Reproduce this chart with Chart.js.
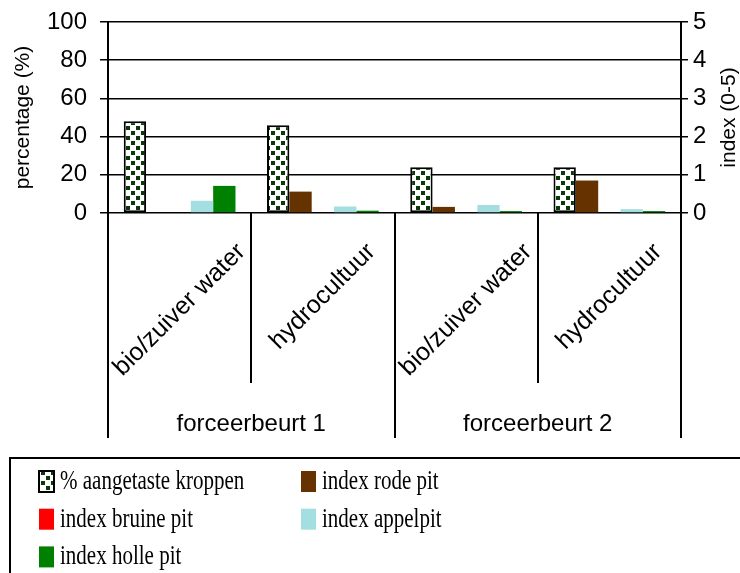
<!DOCTYPE html>
<html>
<head>
<meta charset="utf-8">
<script src="https://cdn.jsdelivr.net/npm/chart.js@4.4.0/dist/chart.umd.min.js"></script>
<style>
  html, body { margin: 0; padding: 0; background: #fff; }
</style>
</head>
<body>
<canvas id="chartKroppen" width="740" height="573"></canvas>
<script>
// categorieen en waarden
const behandelingen = ['bio/zuiver water', 'hydrocultuur', 'bio/zuiver water', 'hydrocultuur']
const forceerbeurten = ['forceerbeurt 1', 'forceerbeurt 2']
const reeksNamen = ['% aangetaste kroppen', 'index rode pit', 'index bruine pit', 'index appelpit', 'index holle pit']

const aangetast = [48, 46, 24, 24]
const rodePit = [0, 0.56, 0.16, 0.85]
const bruinePit = [0, 0, 0, 0]
const appelPit = [0.32, 0.17, 0.21, 0.1]
const hollePit = [0.71, 0.06, 0.05, 0.05]

const percentTicks = [0, 20, 40, 60, 80, 100]
const indexTicks = [0, 1, 2, 3, 4, 5]

const kleuren = ['#ffffff', '#663300', '#ff0000', '#a3dfe0', '#008000']

Chart.defaults.font.family = "'Liberation Sans', Arial, sans-serif"
Chart.defaults.color = '#000'

const canvas = document.getElementById('chartKroppen')
const ctxMain = canvas.getContext('2d')

function maakPatroon() {
    const tile = document.createElement('canvas')
    tile.width = 10
    tile.height = 10
    const g = tile.getContext('2d')
    g.fillStyle = '#fff'
    g.fillRect(0, 0, 10, 10)
    g.fillStyle = '#0a3a0a'
    g.fillRect(1, 1, 4, 4)
    g.fillRect(6, 6, 4, 4)
    return ctxMain.createPattern(tile, 'repeat')
}
const patroon = maakPatroon()

// lijnen, categorie labels, rechtse titel en legende
const structuur = {
    id: 'structuur',
    afterDraw(chart) {
        const { ctx, chartArea: a, scales: { x } } = chart
        const n = behandelingen.length
        const grens = i => {
            if (i === 0) return x.left
            if (i === n) return x.right
            return (x.getPixelForValue(i - 1) + x.getPixelForValue(i)) / 2
        }
        ctx.save()
        ctx.strokeStyle = '#000'
        ctx.lineWidth = 2
        for (let i = 0; i <= n; i++) {
            const lang = i % 2 === 0
            const px = Math.round(grens(i))
            ctx.beginPath()
            ctx.moveTo(px, a.bottom)
            ctx.lineTo(px, a.bottom + (lang ? 225 : 170))
            ctx.stroke()
        }

        // schuine labels
        ctx.fillStyle = '#000'
        ctx.font = "25px 'Liberation Sans', Arial, sans-serif"
        behandelingen.forEach((lab, i) => {
            const cx = x.getPixelForValue(i)
            const w = ctx.measureText(lab).width
            ctx.save()
            ctx.translate(cx + w / 2 * Math.SQRT1_2, a.bottom + 35)
            ctx.rotate(-Math.PI / 4)
            ctx.textAlign = 'right'
            ctx.textBaseline = 'middle'
            ctx.fillText(lab, 0, 0)
            ctx.restore()
        })

        // groepslabels
        ctx.font = "24px 'Liberation Sans', Arial, sans-serif"
        ctx.textAlign = 'center'
        ctx.textBaseline = 'alphabetic'
        forceerbeurten.forEach((lab, j) => {
            const mid = (grens(j * 2) + grens(j * 2 + 2)) / 2
            ctx.fillText(lab, mid, a.bottom + 218)
        })

        // titel rechter as
        ctx.save()
        ctx.font = "21px 'Liberation Sans', Arial, sans-serif"
        ctx.translate(729, (a.top + a.bottom) / 2)
        ctx.rotate(-Math.PI / 2)
        ctx.textAlign = 'center'
        ctx.textBaseline = 'middle'
        ctx.fillText('index (0-5)', 0, 0)
        ctx.restore()

        // legende
        ctx.lineWidth = 2
        ctx.strokeRect(10, 458, 750, 140)
        chart.data.datasets.forEach((ds, i) => {
            const col = i % 2
            const row = Math.floor(i / 2)
            const sx = col ? 301 : 39
            const cy = 481.5 + row * 37.7
            ctx.fillStyle = ds.backgroundColor
            ctx.fillRect(sx, cy - 10.5, 15, 21)
            if (i === 0) {
                ctx.lineWidth = 2
                ctx.strokeRect(sx, cy - 10.5, 15, 21)
            }
            ctx.save()
            ctx.fillStyle = '#000'
            ctx.font = "21px 'Liberation Serif', 'Times New Roman', serif"
            ctx.textAlign = 'left'
            ctx.textBaseline = 'middle'
            ctx.translate(sx + 21, cy)
            ctx.scale(1, 1.33)
            ctx.fillText(ds.label, 0, 0)
            ctx.restore()
        })
        ctx.restore()
    }
}

const reeksen = [aangetast, rodePit, bruinePit, appelPit, hollePit]

const data = {
    labels: behandelingen,
    datasets: reeksen.map((waarden, i) => ({
        label: reeksNamen[i],
        data: waarden,
        yAxisID: i === 0 ? 'y' : 'y1',
        backgroundColor: i === 0 ? patroon : kleuren[i],
        borderColor: '#000',
        borderWidth: i === 0 ? 2 : 0,
        borderSkipped: false,
        categoryPercentage: 0.78,
        barPercentage: 1.0
    }))
}

const config = {
    type: 'bar',
    data: data,
    options: {
        responsive: false,
        animation: false,
        devicePixelRatio: 1,
        layout: { padding: { top: 22, left: 0, right: 0, bottom: 0 } },
        plugins: {
            legend: { display: false },
            tooltip: { enabled: false }
        },
        scales: {
            x: {
                ticks: { display: false },
                grid: { display: false },
                border: { display: false },
                afterFit: s => { s.height = 360 }
            },
            y: {
                position: 'left',
                min: 0,
                max: 100,
                afterBuildTicks: s => { s.ticks = percentTicks.map(v => ({ value: v })) },
                ticks: { font: { size: 24 }, color: '#000', padding: 13 },
                grid: { color: '#000', lineWidth: 1.5, tickLength: 8 },
                border: { color: '#000', width: 2 },
                title: {
                    display: true,
                    text: 'percentage (%)',
                    font: { size: 21 },
                    color: '#000',
                    padding: { top: 11, bottom: 0 }
                },
                afterFit: s => {
                    s.width = 108
                    s.paddingTop = 0
                    s.paddingBottom = 0
                }
            },
            y1: {
                position: 'right',
                min: 0,
                max: 5,
                afterBuildTicks: s => { s.ticks = indexTicks.map(v => ({ value: v })) },
                ticks: { font: { size: 24 }, color: '#000', padding: 5 },
                grid: { drawOnChartArea: false, color: '#000', lineWidth: 1.5, tickLength: 7 },
                border: { color: '#000', width: 2 },
                afterFit: s => {
                    s.width = 59
                    s.paddingTop = 0
                    s.paddingBottom = 0
                }
            }
        }
    },
    plugins: [structuur]
}

new Chart(canvas, config)
</script>
</body>
</html>
